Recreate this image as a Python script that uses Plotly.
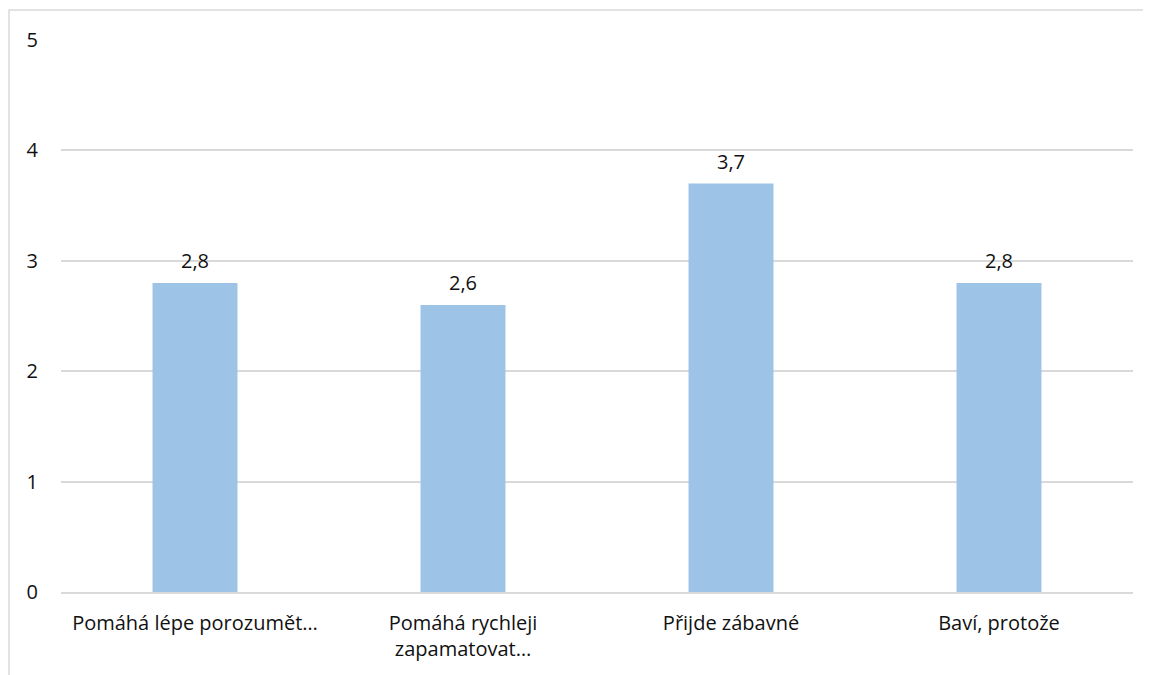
import plotly.graph_objects as go

categories = ["Pomáhá lépe porozumět…", "Pomáhá rychleji<br>zapamatovat…", "Přijde zábavné", "Baví, protože"]
values = [2.8, 2.6, 3.7, 2.8]
value_labels = ["2,8", "2,6", "3,7", "2,8"]
y_ticks = [0, 1, 2, 3, 4, 5]

FONT = "Open Sans"
FS = 20
GRID = "#d9d9d9"
TXT = "#111111"

fig = go.Figure()
fig.add_trace(go.Bar(
    x=categories, y=values,
    marker=dict(color="#9dc3e6", line=dict(width=0)),
    width=0.317,
    hoverinfo="skip",
))

for c, v, t in zip(categories, values, value_labels):
    fig.add_annotation(x=c, y=v, text=t, showarrow=False, yshift=22,
                       font=dict(family=FONT, size=FS, color=TXT))

# chart border
fig.add_shape(type="rect", xref="paper", yref="paper",
              x0=-0.0485, x1=1.06, y0=-0.25, y1=1.0543,
              line=dict(color=GRID, width=1.5), layer="below")

fig.update_layout(
    width=1143, height=667,
    margin=dict(l=53, r=18, t=32, b=83),
    paper_bgcolor="white", plot_bgcolor="white",
    showlegend=False,
    font=dict(family=FONT, size=FS, color=TXT),
)
fig.update_yaxes(range=[0, 5], tickvals=y_ticks, showgrid=True, gridcolor=GRID, gridwidth=1.5,
                 zeroline=False, showline=False, ticks="", ticklabelstandoff=22,
                 tickfont=dict(family=FONT, size=FS, color=TXT))
fig.update_xaxes(showline=True, linecolor=GRID, linewidth=1.5, ticks="", ticklabelstandoff=12,
                 tickfont=dict(family=FONT, size=FS, color=TXT))

fig.write_html("out.html")
